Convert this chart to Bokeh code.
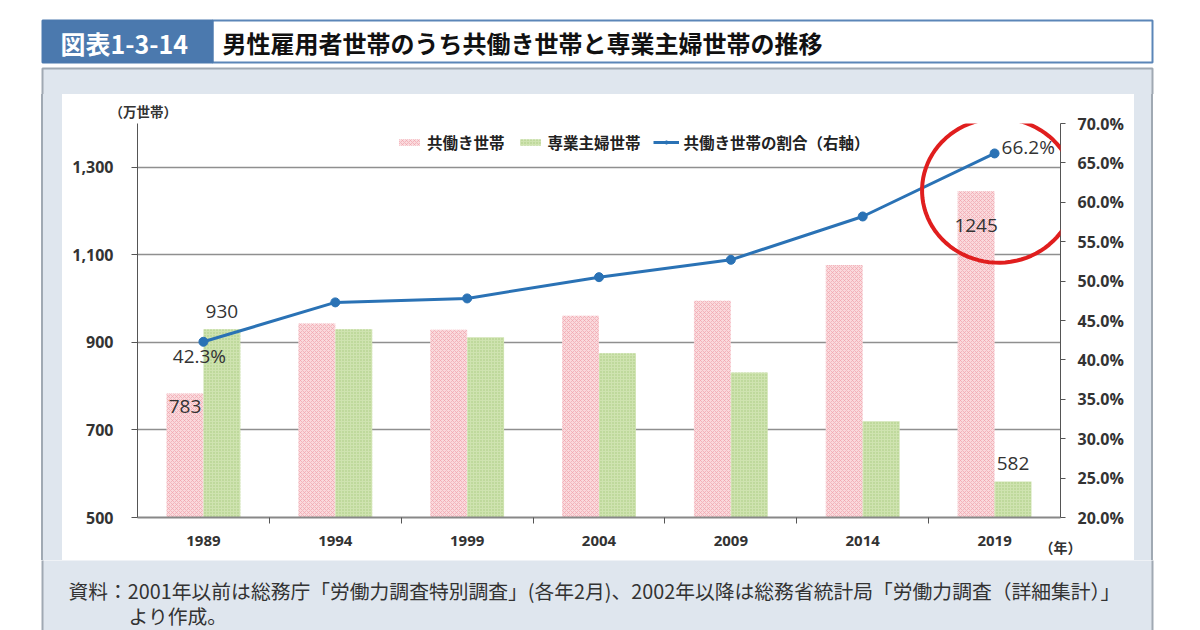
import numpy as np
from bokeh.plotting import figure
from bokeh.layouts import column, row
from bokeh.models import (ColumnDataSource, Range1d, LinearAxis, FixedTicker, Legend, LegendItem, Label,
                          PolyAnnotation, NumeralTickFormatter, PrintfTickFormatter, Title, Spacer)
from bokeh.transform import dodge
from bokeh.core.properties import value
from bokeh.embed import file_html
from bokeh.resources import INLINE

# ---- data ----
years = ["1989", "1994", "1999", "2004", "2009", "2014", "2019"]
dual_income = [783, 943, 929, 961, 995, 1077, 1245]      # 共働き世帯 (万世帯)
housewife = [930, 930, 912, 875, 831, 720, 582]          # 専業主婦世帯 (万世帯)
dual_share = [42.3, 47.3, 47.8, 50.5, 52.7, 58.2, 66.2]  # 共働き世帯の割合 (%)
left_ticks = [500, 700, 900, 1100, 1300]
right_ticks = [20, 25, 30, 35, 40, 45, 50, 55, 60, 65, 70]

JP = "Noto Sans CJK JP"
NUM = "Open Sans"
PANEL = "#dfe6ee"
PANEL_LINE = "#a0a9b3"

# ---------------- decorative figures ----------------
def deco(w, h):
    f = figure(width=w, height=h, x_range=Range1d(0, w), y_range=Range1d(h, 0),
               output_backend="svg", toolbar_location=None, x_axis_type=None, y_axis_type=None,
               min_border=0)
    f.outline_line_color = None
    f.background_fill_color = "white"
    f.border_fill_color = "white"
    return f

# top strip: page y 0..94
top = deco(1200, 94)
top.quad(left=[42], right=[1152], top=[68], bottom=[120], fill_color=PANEL, line_color=PANEL_LINE, line_width=2)
top.quad(left=[62], right=[1134], top=[94], bottom=[120], fill_color="white", line_color=None)
top.quad(left=[212], right=[1152], top=[20], bottom=[62], fill_color="white", line_color="#5b86b8", line_width=2)
top.quad(left=[42], right=[212], top=[20], bottom=[62], fill_color="#4b79ae", line_color="#4b79ae", line_width=2)
top.text(x=[60], y=[42], text=["図表1-3-14"], text_font=value(JP), text_font_size="25px",
         text_font_style="bold", text_color="white", text_baseline="middle")
top.text(x=[222], y=[42], text=["男性雇用者世帯のうち共働き世帯と専業主婦世帯の推移"], text_font=value(JP),
         text_font_size="24px", text_font_style="bold", text_color="#111", text_baseline="middle")

# bottom strip: page y 560..630
bottom = deco(1200, 70)
bottom.quad(left=[42], right=[1152], top=[-10], bottom=[90], fill_color=PANEL, line_color=PANEL_LINE, line_width=2)
bottom.text(x=[68], y=[30], text=["資料：2001年以前は総務庁「労働力調査特別調査」(各年2月)、2002年以降は総務省統計局「労働力調査（詳細集計）」"],
            text_font=value(JP), text_font_size="19.8px", text_color="#333", text_baseline="middle")
bottom.text(x=[128], y=[55], text=["より作成。"], text_font=value(JP), text_font_size="19.8px",
            text_color="#333", text_baseline="middle")

# ---------------- main chart: page x 62..1134, y 94..560 ----------------
idx = list(range(len(years)))
src = ColumnDataSource(dict(x=idx, dual=dual_income, wife=housewife, share=dual_share))

p = figure(width=1072, height=466, x_range=Range1d(-0.5, len(years) - 0.5), y_range=Range1d(500, 1400),
           output_backend="svg", toolbar_location=None,
           min_border_left=75, min_border_right=74, min_border_top=29, min_border_bottom=43)
p.extra_y_ranges = {"pct": Range1d(20, 70)}
p.border_fill_color = "white"
p.background_fill_color = "white"
p.outline_line_color = None

unit_title = Title(text="（万世帯）", align="left", offset=-28, standoff=5,
                   text_font=JP, text_font_size="13.5px", text_font_style="bold", text_color="#333")
p.add_layout(unit_title, "above")

yax = p.yaxis[0]
yax.ticker = FixedTicker(ticks=left_ticks)
yax.formatter = NumeralTickFormatter(format="0,0")
yax.axis_line_color = "#555"
yax.major_tick_line_color = "#555"
yax.major_tick_out = 6
yax.major_tick_in = 0
yax.minor_tick_line_color = None
yax.major_label_text_font = NUM
yax.major_label_text_font_size = "16px"
yax.major_label_text_font_style = "bold"
yax.major_label_text_color = "#333"
yax.major_label_standoff = 18

rax = LinearAxis(y_range_name="pct", ticker=FixedTicker(ticks=right_ticks),
                 formatter=PrintfTickFormatter(format="%.1f%%"))
rax.axis_line_color = "#555"
rax.major_tick_line_color = "#555"
rax.major_tick_out = 5
rax.major_tick_in = 0
rax.minor_tick_line_color = None
rax.major_label_text_font = NUM
rax.major_label_text_font_size = "16px"
rax.major_label_text_font_style = "bold"
rax.major_label_text_color = "#333"
rax.major_label_standoff = 12
p.add_layout(rax, "right")

xax = p.xaxis[0]
xax.ticker = FixedTicker(ticks=idx, minor_ticks=[i + 0.5 for i in idx[:-1]])
xax.major_label_overrides = {i: y for i, y in zip(idx, years)}
xax.major_tick_line_color = None
xax.minor_tick_line_color = "#555"
xax.minor_tick_out = 6
xax.minor_tick_in = 0
xax.axis_line_color = "#888"
xax.axis_line_width = 2
xax.major_label_text_font = NUM
xax.major_label_text_font_size = "15px"
xax.major_label_text_font_style = "bold"
xax.major_label_text_color = "#333"
xax.major_label_standoff = 12

if "axis_label_align" in xax.properties():
    xax.axis_label = "（年）"
    xax.axis_label_align = "end"
    xax.axis_label_standoff = -12
    xax.axis_label_text_font = JP
    xax.axis_label_text_font_size = "14px"
    xax.axis_label_text_font_style = "bold"
    xax.axis_label_text_color = "#333"
else:
    p.add_layout(Title(text="（年）", align="right", offset=0, standoff=0, text_font=JP,
                       text_font_size="14px", text_font_style="bold", text_color="#333"), "below")

p.xgrid.visible = False
p.ygrid.ticker = FixedTicker(ticks=left_ticks[1:])
p.ygrid.grid_line_color = "#8f8f8f"
p.ygrid.grid_line_width = 1.5

# bars
r1 = p.vbar(x=dodge("x", -0.14), top="dual", bottom=500, width=0.28, source=src,
            fill_color="#fadadd", line_color=None,
            hatch_pattern="diagonal_cross", hatch_color="#f0a3ad", hatch_scale=4, hatch_weight=0.7)
r2 = p.vbar(x=dodge("x", 0.14), top="wife", bottom=500, width=0.28, source=src,
            fill_color="#cfe3b0", line_color=None,
            hatch_pattern="dot", hatch_color="#a8c97c", hatch_scale=3, hatch_weight=1)

# line
r3 = p.line("x", "share", source=src, y_range_name="pct", line_color="#2a72b5", line_width=3)
r4 = p.scatter("x", "share", source=src, y_range_name="pct", size=9, fill_color="#2a72b5", line_color="#2a72b5")

# legend
leg = Legend(items=[LegendItem(label="共働き世帯", renderers=[r1]),
                    LegendItem(label="専業主婦世帯", renderers=[r2]),
                    LegendItem(label="共働き世帯の割合（右軸）", renderers=[r3, r4])],
             orientation="horizontal", location=(259, 364),
             background_fill_alpha=0, border_line_color=None,
             label_text_font=JP, label_text_font_size="15.5px", label_text_font_style="bold",
             label_text_color="#222", glyph_width=26, glyph_height=8, label_standoff=5, spacing=12,
             padding=0, margin=0)
p.add_layout(leg)

# data labels
def dlabel(x, y, text, align="center", baseline="middle", xo=0, yo=0, rng="default"):
    p.add_layout(Label(x=x, y=y, text=text, x_offset=xo, y_offset=yo, y_range_name=rng,
                       text_font=NUM, text_font_size="19px", text_color="#333",
                       text_align=align, text_baseline=baseline))

last = len(years) - 1
dlabel(idx[0] + 0.14, housewife[0], str(housewife[0]), baseline="bottom", yo=11)
dlabel(idx[0] - 0.14, dual_income[0], str(dual_income[0]), baseline="top", yo=-6)
dlabel(idx[0], dual_share[0], f"{dual_share[0]}%", baseline="top", xo=-4, yo=-1, rng="pct")
dlabel(idx[last] - 0.14, dual_income[last], str(dual_income[last]), baseline="top", yo=-28)
dlabel(idx[last] + 0.14, housewife[last], str(housewife[last]), baseline="bottom", yo=12)
dlabel(idx[last], dual_share[last], f"{dual_share[last]}%", align="left", xo=7, yo=6, rng="pct")

# red emphasis circle
t = np.linspace(0, 2 * np.pi, 90)
cx, cy, rx, ry = idx[last] + 0.03, 1247, 0.58, 165
p.add_layout(PolyAnnotation(xs=list(cx + rx * np.cos(t)), ys=list(cy + ry * np.sin(t)),
                            fill_alpha=0, line_color="#e01e1e", line_alpha=1, line_width=4, level="overlay"))

# side strips of the grey panel (page x 0..62 and 1134..1200)
H = 466
def strip(w, color=None):
    if color is None:
        return Spacer(width=w, height=H)
    return Spacer(width=w, height=H, styles={"background-color": color})

middle = row(strip(41), strip(2, PANEL_LINE), strip(19, PANEL), p,
             strip(17, PANEL), strip(2, PANEL_LINE), strip(47), spacing=0)

layout = column(top, middle, bottom, spacing=0)
open("out.html", "w").write(file_html(layout, INLINE))
